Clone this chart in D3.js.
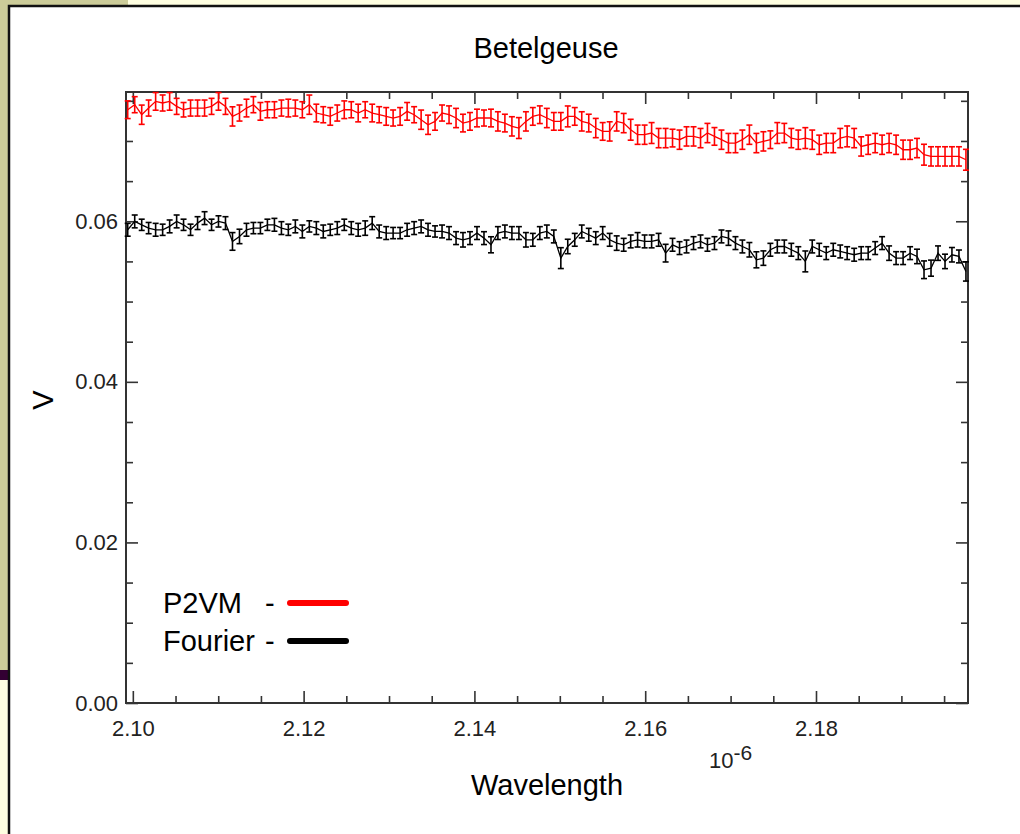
<!DOCTYPE html>
<html>
<head>
<meta charset="utf-8">
<script src="https://cdn.jsdelivr.net/npm/d3@7"></script>
<style>
  html, body { margin: 0; padding: 0; background: #FFFFE1; }
  svg { display: block; }
  text { font-family: "Liberation Sans", Arial, Helvetica, sans-serif; }
</style>
</head>
<body>
<svg id="chart" width="1020" height="834"></svg>
<script>
// ---- data (wavelength in units of 1e-6 m) ----
const wavelength = [
2.09940,2.10022,2.10104,2.10185,2.10267,2.10349,2.10431,2.10513,2.10594,2.10676,
2.10758,2.10840,2.10922,2.11003,2.11085,2.11167,2.11249,2.11331,2.11412,2.11494,
2.11576,2.11658,2.11740,2.11821,2.11903,2.11985,2.12067,2.12149,2.12230,2.12312,
2.12394,2.12476,2.12558,2.12639,2.12721,2.12803,2.12885,2.12967,2.13048,2.13130,
2.13212,2.13294,2.13376,2.13457,2.13539,2.13621,2.13703,2.13785,2.13866,2.13948,
2.14030,2.14112,2.14194,2.14275,2.14357,2.14439,2.14521,2.14603,2.14684,2.14766,
2.14848,2.14930,2.15012,2.15093,2.15175,2.15257,2.15339,2.15421,2.15502,2.15584,
2.15666,2.15748,2.15830,2.15911,2.15993,2.16075,2.16157,2.16239,2.16320,2.16402,
2.16484,2.16566,2.16648,2.16729,2.16811,2.16893,2.16975,2.17057,2.17138,2.17220,
2.17302,2.17384,2.17466,2.17547,2.17629,2.17711,2.17793,2.17875,2.17956,2.18038,
2.18120,2.18202,2.18284,2.18365,2.18447,2.18529,2.18611,2.18693,2.18774,2.18856,
2.18938,2.19020,2.19102,2.19183,2.19265,2.19347,2.19429,2.19511,2.19592,2.19674,
2.19756];

const p2vm = [
0.07389,0.07452,0.07327,0.07410,0.07493,0.07473,0.07493,0.07431,0.07389,0.07410,
0.07410,0.07410,0.07431,0.07493,0.07431,0.07306,0.07348,0.07410,0.07452,0.07369,
0.07389,0.07389,0.07410,0.07410,0.07410,0.07389,0.07452,0.07348,0.07327,0.07306,
0.07348,0.07389,0.07389,0.07348,0.07389,0.07348,0.07327,0.07306,0.07286,0.07306,
0.07369,0.07327,0.07265,0.07202,0.07244,0.07348,0.07327,0.07286,0.07223,0.07244,
0.07286,0.07286,0.07286,0.07244,0.07223,0.07182,0.07161,0.07244,0.07306,0.07327,
0.07286,0.07244,0.07244,0.07306,0.07306,0.07244,0.07223,0.07161,0.07119,0.07119,
0.07244,0.07223,0.07140,0.07078,0.07078,0.07099,0.07036,0.07036,0.07036,0.07016,
0.07057,0.07057,0.07036,0.07099,0.07057,0.07016,0.06974,0.06974,0.07016,0.07078,
0.06974,0.06995,0.07016,0.07099,0.07099,0.07036,0.07016,0.07036,0.07016,0.06953,
0.06974,0.06974,0.07036,0.07057,0.07036,0.06932,0.06953,0.06974,0.06953,0.06974,
0.06953,0.06891,0.06891,0.06912,0.06829,0.06808,0.06808,0.06808,0.06808,0.06808,
0.06766];

const p2vmErr = [
0.0011,0.0010,0.0012,0.0010,0.0011,0.0010,0.0011,0.0010,0.0009,0.0010,
0.0010,0.0010,0.0010,0.0011,0.0010,0.0012,0.0010,0.0011,0.0010,0.0011,
0.0010,0.0010,0.0010,0.0011,0.0010,0.0010,0.0012,0.0011,0.0010,0.0011,
0.0010,0.0011,0.0010,0.0011,0.0010,0.0011,0.0010,0.0011,0.0010,0.0011,
0.0011,0.0010,0.0012,0.0012,0.0011,0.0010,0.0011,0.0012,0.0011,0.0011,
0.0011,0.0010,0.0011,0.0012,0.0011,0.0012,0.0013,0.0012,0.0011,0.0011,
0.0012,0.0011,0.0011,0.0013,0.0011,0.0012,0.0011,0.0012,0.0011,0.0012,
0.0012,0.0012,0.0013,0.0012,0.0012,0.0013,0.0012,0.0012,0.0011,0.0012,
0.0012,0.0012,0.0012,0.0012,0.0011,0.0012,0.0012,0.0012,0.0012,0.0012,
0.0012,0.0012,0.0011,0.0013,0.0012,0.0012,0.0012,0.0013,0.0012,0.0012,
0.0012,0.0012,0.0012,0.0013,0.0012,0.0012,0.0012,0.0012,0.0012,0.0012,
0.0012,0.0012,0.0012,0.0012,0.0013,0.0012,0.0012,0.0012,0.0012,0.0012,
0.0013];

const fourier = [
0.05894,0.05998,0.05956,0.05915,0.05894,0.05894,0.05936,0.05998,0.05956,0.05894,
0.05977,0.06039,0.05956,0.05998,0.05977,0.05749,0.05811,0.05894,0.05915,0.05915,
0.05956,0.05956,0.05915,0.05894,0.05936,0.05873,0.05936,0.05915,0.05873,0.05894,
0.05915,0.05956,0.05915,0.05894,0.05915,0.05977,0.05873,0.05853,0.05853,0.05853,
0.05894,0.05915,0.05936,0.05894,0.05873,0.05873,0.05853,0.05790,0.05769,0.05790,
0.05853,0.05790,0.05707,0.05853,0.05873,0.05853,0.05853,0.05769,0.05769,0.05853,
0.05873,0.05811,0.05541,0.05686,0.05769,0.05873,0.05832,0.05790,0.05853,0.05769,
0.05728,0.05707,0.05749,0.05769,0.05749,0.05749,0.05769,0.05603,0.05707,0.05666,
0.05686,0.05728,0.05749,0.05707,0.05728,0.05811,0.05790,0.05728,0.05686,0.05645,
0.05520,0.05541,0.05645,0.05686,0.05686,0.05645,0.05603,0.05500,0.05686,0.05645,
0.05603,0.05645,0.05624,0.05603,0.05583,0.05603,0.05603,0.05666,0.05728,0.05603,
0.05541,0.05541,0.05603,0.05562,0.05396,0.05416,0.05603,0.05500,0.05583,0.05562,
0.05375];

const fourierErr = [
0.0008,0.0008,0.0007,0.0007,0.0008,0.0007,0.0008,0.0008,0.0007,0.0007,
0.0008,0.0008,0.0007,0.0007,0.0008,0.0011,0.0009,0.0008,0.0007,0.0007,
0.0007,0.0008,0.0008,0.0007,0.0008,0.0008,0.0007,0.0008,0.0008,0.0007,
0.0008,0.0007,0.0008,0.0008,0.0009,0.0008,0.0008,0.0008,0.0007,0.0007,
0.0008,0.0008,0.0008,0.0008,0.0007,0.0008,0.0008,0.0008,0.0009,0.0008,
0.0008,0.0008,0.0010,0.0008,0.0008,0.0008,0.0008,0.0009,0.0008,0.0008,
0.0008,0.0008,0.0013,0.0009,0.0008,0.0008,0.0008,0.0008,0.0008,0.0008,
0.0009,0.0008,0.0008,0.0009,0.0008,0.0008,0.0008,0.0011,0.0008,0.0008,
0.0008,0.0008,0.0008,0.0008,0.0008,0.0008,0.0009,0.0008,0.0008,0.0009,
0.0010,0.0009,0.0008,0.0008,0.0008,0.0008,0.0008,0.0013,0.0008,0.0008,
0.0008,0.0008,0.0008,0.0008,0.0008,0.0008,0.0008,0.0008,0.0008,0.0009,
0.0008,0.0008,0.0008,0.0009,0.0011,0.0010,0.0009,0.0009,0.0009,0.0008,
0.0012];

const xMajorTicks = [2.10, 2.12, 2.14, 2.16, 2.18];
const xMinorTicks = [2.105, 2.11, 2.115, 2.125, 2.13, 2.135, 2.145, 2.15, 2.155,
                     2.165, 2.17, 2.175, 2.185, 2.19, 2.195];
const yMajorTicks = [0.00, 0.02, 0.04, 0.06];
const yMinorTicks = [0.005, 0.01, 0.015, 0.025, 0.03, 0.035, 0.045, 0.05, 0.055,
                     0.065, 0.07, 0.075];

const seriesNames = ["P2VM", "Fourier"];
const seriesColors = ["#FF0000", "#000000"];

// ---- drawing ----
const svg = d3.select("#chart");

// page background decoration
svg.append("rect").attr("x", 0).attr("y", 0).attr("width", 1020).attr("height", 834).attr("fill", "#FFFFE1");
svg.append("rect").attr("x", 0).attr("y", 0).attr("width", 128).attr("height", 6).attr("fill", "#CCCC99");
svg.append("rect").attr("x", 0).attr("y", 0).attr("width", 8).attr("height", 670).attr("fill", "#CCCC99");
svg.append("rect").attr("x", 0).attr("y", 670).attr("width", 8).attr("height", 10).attr("fill", "#330033");
// white panel
svg.append("rect").attr("x", 9).attr("y", 6).attr("width", 1100).attr("height", 900)
  .attr("fill", "#FFFFFF").attr("stroke", "#111").attr("stroke-width", 2.5);

const L = 126, R = 968, T = 92, B = 703;
const x = d3.scaleLinear().domain([2.0992, 2.1978]).range([L, R]);
const y = d3.scaleLinear().domain([0, 0.0761]).range([B, T]);

const axisColor = "#333";
function styleAxis(g) {
  g.selectAll(".domain").remove();
  g.selectAll("line").attr("stroke", axisColor).attr("stroke-width", 1.6);
  g.selectAll("text").attr("fill", "#222").attr("font-size", 22)
    .attr("font-family", "'Liberation Sans', Arial, sans-serif");
}

// bottom
svg.append("g").attr("transform", `translate(0,${B})`)
  .call(d3.axisBottom(x).tickValues(xMajorTicks).tickSize(-12).tickPadding(17).tickFormat(d3.format(".2f")))
  .call(styleAxis);
svg.append("g").attr("transform", `translate(0,${B})`)
  .call(d3.axisBottom(x).tickValues(xMinorTicks).tickSize(-7).tickFormat(""))
  .call(styleAxis);
// top
svg.append("g").attr("transform", `translate(0,${T})`)
  .call(d3.axisTop(x).tickValues(xMajorTicks).tickSize(-12).tickFormat(""))
  .call(styleAxis);
svg.append("g").attr("transform", `translate(0,${T})`)
  .call(d3.axisTop(x).tickValues(xMinorTicks).tickSize(-7).tickFormat(""))
  .call(styleAxis);
// left
svg.append("g").attr("transform", `translate(${L},0)`)
  .call(d3.axisLeft(y).tickValues(yMajorTicks).tickSize(-12).tickPadding(8).tickFormat(d3.format(".2f")))
  .call(styleAxis);
svg.append("g").attr("transform", `translate(${L},0)`)
  .call(d3.axisLeft(y).tickValues(yMinorTicks).tickSize(-7).tickFormat(""))
  .call(styleAxis);
// right
svg.append("g").attr("transform", `translate(${R},0)`)
  .call(d3.axisRight(y).tickValues(yMajorTicks).tickSize(-12).tickFormat(""))
  .call(styleAxis);
svg.append("g").attr("transform", `translate(${R},0)`)
  .call(d3.axisRight(y).tickValues(yMinorTicks).tickSize(-7).tickFormat(""))
  .call(styleAxis);

// frame
svg.append("rect").attr("x", L).attr("y", T).attr("width", R - L).attr("height", B - T)
  .attr("fill", "none").attr("stroke", axisColor).attr("stroke-width", 2);

// series
const series = [
  { name: seriesNames[0], color: seriesColors[0], values: p2vm, err: p2vmErr },
  { name: seriesNames[1], color: seriesColors[1], values: fourier, err: fourierErr }
];
const line = d3.line().x(d => x(d.w)).y(d => y(d.v));
const cap = 3;
series.forEach(s => {
  const pts = wavelength.map((w, i) => ({ w, v: s.values[i], e: s.err[i] }));
  const g = svg.append("g");
  g.append("path").datum(pts).attr("d", line).attr("fill", "none")
    .attr("stroke", s.color).attr("stroke-width", 1.3);
  const eb = g.selectAll("g.eb").data(pts).join("g").attr("class", "eb")
    .attr("stroke", s.color).attr("stroke-width", 1.6);
  eb.append("line").attr("x1", d => x(d.w)).attr("x2", d => x(d.w))
    .attr("y1", d => y(d.v - d.e)).attr("y2", d => y(d.v + d.e));
  eb.append("line").attr("x1", d => x(d.w) - cap).attr("x2", d => x(d.w) + cap)
    .attr("y1", d => y(d.v + d.e)).attr("y2", d => y(d.v + d.e));
  eb.append("line").attr("x1", d => x(d.w) - cap).attr("x2", d => x(d.w) + cap)
    .attr("y1", d => y(d.v - d.e)).attr("y2", d => y(d.v - d.e));
});

// titles
svg.append("text").attr("x", 546).attr("y", 58).attr("text-anchor", "middle")
  .attr("font-size", 29).attr("fill", "#000").text("Betelgeuse");
svg.append("text").attr("x", 547).attr("y", 795).attr("text-anchor", "middle")
  .attr("font-size", 29).attr("fill", "#000").text("Wavelength");
svg.append("text").attr("transform", "translate(53,400) rotate(-90)").attr("text-anchor", "middle")
  .attr("font-size", 29).attr("fill", "#000").text("V");
const mult = svg.append("text").attr("x", 709).attr("y", 768).attr("font-size", 22).attr("fill", "#222");
mult.append("tspan").text("10");
mult.append("tspan").attr("dy", -8).attr("font-size", 21).text("-6");

// legend
const legendY = [613, 651];
series.forEach((s, i) => {
  svg.append("text").attr("x", 163).attr("y", legendY[i]).attr("font-size", 29).attr("fill", "#000").text(s.name);
  svg.append("text").attr("x", 265).attr("y", legendY[i]).attr("font-size", 29).attr("fill", "#000").text("-");
  svg.append("line").attr("x1", 290).attr("x2", 346)
    .attr("y1", legendY[i] - 10).attr("y2", legendY[i] - 10)
    .attr("stroke", s.color).attr("stroke-width", 6).attr("stroke-linecap", "round");
});
</script>
</body>
</html>
